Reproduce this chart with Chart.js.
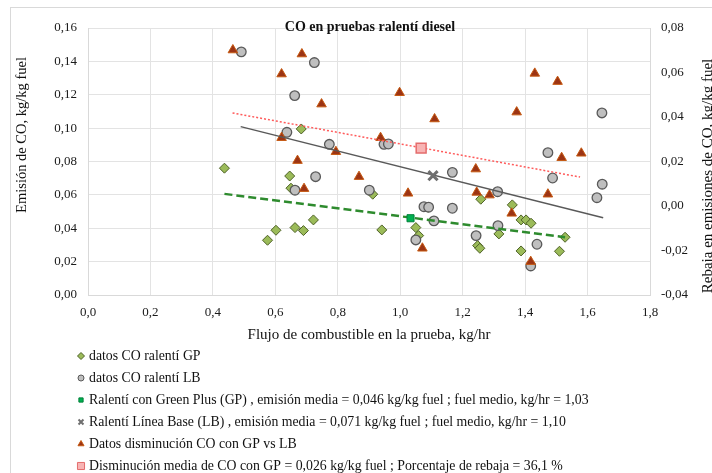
<!DOCTYPE html>
<html>
<head>
<meta charset="utf-8">
<title>CO en pruebas ralentí diesel</title>
<script src="https://cdn.jsdelivr.net/npm/chart.js@4.4.1/dist/chart.umd.min.js"></script>
<style>
body { margin: 0; background: #fff; }
</style>
</head>
<body>
<canvas id="myChart" width="712" height="473"></canvas>
<script>
// datos (flujo kg/hr, emision kg/kg fuel)

const gpFlujo = [0.437, 0.683, 0.646, 0.650, 0.912, 0.722, 0.602, 0.663, 0.690, 0.575, 0.941, 1.050, 1.059,
    1.089, 1.258, 1.359, 1.387, 1.403, 1.419, 1.316, 1.248, 1.255, 1.387, 1.510, 1.528];
const gpEmision = [0.076, 0.0995, 0.0713, 0.064, 0.0604, 0.045, 0.0388, 0.0404, 0.0386, 0.0328, 0.039, 0.0404, 0.0356,
    0.0526, 0.0574, 0.054, 0.045, 0.045, 0.043, 0.0366, 0.0296, 0.028, 0.0264, 0.0262, 0.0346];

const lbFlujo = [0.491, 0.725, 0.662, 0.637, 0.773, 0.948, 0.962, 0.729, 0.663, 0.901, 1.076, 1.091, 1.050,
    1.646, 1.473, 1.167, 1.488, 1.312, 1.647, 1.630, 1.167, 1.313, 1.243, 1.438, 1.418, 1.108];
const lbEmision = [0.1457, 0.1393, 0.1195, 0.0975, 0.0903, 0.0903, 0.0905, 0.0709, 0.0628, 0.0628, 0.0529, 0.0526, 0.033,
    0.1091, 0.0853, 0.0735, 0.0701, 0.0619, 0.0664, 0.0583, 0.052, 0.0416, 0.0356, 0.0304, 0.0174, 0.0444];

// disminucion GP vs LB (eje derecho)
const rebajaFlujo = [0.464, 0.685, 0.620, 0.748, 0.998, 0.620, 0.794, 0.671, 0.937, 0.868, 0.692, 1.025, 1.071,
    1.110, 1.431, 1.504, 1.373, 1.580, 1.517, 1.242, 1.245, 1.286, 1.473, 1.357, 1.418];
const rebajaValor = [0.0701, 0.0683, 0.0593, 0.0458, 0.0509, 0.0307, 0.0244, 0.0204, 0.0307, 0.0132, 0.0078, 0.0057, -0.019,
    0.0391, 0.0596, 0.0559, 0.0422, 0.0237, 0.0217, 0.0166, 0.0061, 0.0049, 0.0053, -0.0033, -0.025];

// medias
const gpMedia = [1.033, 0.046];
const lbMedia = [1.105, 0.0715];
const rebajaMedia = [1.067, 0.026];

// lineas de tendencia (extremos)
const gpTendX = [0.437, 1.528];
const gpTendY = [0.0606, 0.0346];
const lbTendX = [0.489, 1.65];
const lbTendY = [0.1009, 0.0463];
const rebajaTendX = [0.463, 1.576];
const rebajaTendY = [0.0418, 0.013];

// ejes
const xTicks = [0, 0.2, 0.4, 0.6, 0.8, 1.0, 1.2, 1.4, 1.6, 1.8];
const yTicks = [0, 0.02, 0.04, 0.06, 0.08, 0.10, 0.12, 0.14, 0.16];
const y2Ticks = [-0.04, -0.02, 0, 0.02, 0.04, 0.06, 0.08];

const leyenda = [
    'datos CO ralentí GP',
    'datos CO ralentí LB',
    'Ralentí con Green Plus (GP) , emisión media = 0,046 kg/kg fuel ; fuel medio, kg/hr = 1,03',
    'Ralentí Línea Base (LB) , emisión media = 0,071 kg/kg fuel ; fuel medio, kg/hr = 1,10',
    'Datos disminución CO con GP vs LB',
    'Disminución media de CO con GP = 0,026 kg/kg fuel ; Porcentaje de rebaja = 36,1 %'
];

const FUENTE = '"Liberation Serif", "DejaVu Serif", serif';

function puntos(xs, ys) {
    return xs.map(function (x, i) { return {x: x, y: ys[i]}; });
}

function coma(v, d) {
    return v.toFixed(d).replace('.', ',');
}

const datasets = [
    {label: leyenda[0], type: 'scatter', data: puntos(gpFlujo, gpEmision), yAxisID: 'y',
        pointStyle: 'rectRot', radius: 5, backgroundColor: '#9bbb59', borderColor: '#4f6228', borderWidth: 1, order: 6},
    {label: leyenda[1], type: 'scatter', data: puntos(lbFlujo, lbEmision), yAxisID: 'y',
        pointStyle: 'circle', radius: 4.8, backgroundColor: '#bfbfbf', borderColor: '#595959', borderWidth: 1.3, order: 5},
    {label: leyenda[2], type: 'scatter', data: [{x: gpMedia[0], y: gpMedia[1]}], yAxisID: 'y',
        pointStyle: 'rect', radius: 5, backgroundColor: '#00b050', borderColor: '#00803a', borderWidth: 1, order: 2},
    {label: leyenda[3], type: 'scatter', data: [{x: lbMedia[0], y: lbMedia[1]}], yAxisID: 'y',
        pointStyle: 'crossRot', radius: 6.5, backgroundColor: '#7f7f7f', borderColor: '#6f6f6f', borderWidth: 3, order: 2},
    {label: leyenda[4], type: 'scatter', data: puntos(rebajaFlujo, rebajaValor), yAxisID: 'y2',
        pointStyle: 'triangle', radius: 5.5, backgroundColor: '#9c3414', borderColor: '#c65911', borderWidth: 1, order: 4},
    {label: leyenda[5], type: 'scatter', data: [{x: rebajaMedia[0], y: rebajaMedia[1]}], yAxisID: 'y2',
        pointStyle: 'rect', radius: 7, backgroundColor: '#f8b4b4', borderColor: '#e46c6c', borderWidth: 1.5, order: 1},
    // tendencias
    {label: 'tend GP', type: 'line', data: puntos(gpTendX, gpTendY), yAxisID: 'y',
        borderColor: '#2e8b2e', borderWidth: 2.5, borderDash: [8, 4], pointRadius: 0, fill: false, order: 3},
    {label: 'tend LB', type: 'line', data: puntos(lbTendX, lbTendY), yAxisID: 'y',
        borderColor: '#595959', borderWidth: 1.5, pointRadius: 0, fill: false, order: 3},
    {label: 'tend rebaja', type: 'line', data: puntos(rebajaTendX, rebajaTendY), yAxisID: 'y2',
        borderColor: '#ff5a5a', borderWidth: 1.5, borderDash: [2, 2], pointRadius: 0, fill: false, order: 3}
];

// titulos, marco y leyenda dibujados a mano
const textos = {
    id: 'textos',
    beforeDraw(chart) {
        const ctx = chart.ctx;
        ctx.save();
        ctx.fillStyle = '#fff';
        ctx.fillRect(0, 0, chart.width, chart.height);
        ctx.strokeStyle = '#d9d9d9';
        ctx.lineWidth = 1;
        ctx.strokeRect(10.5, 7.5, 800, 600);
        ctx.restore();
    },
    afterDraw(chart) {
        const ctx = chart.ctx;
        const area = chart.chartArea;
        ctx.save();
        ctx.fillStyle = '#111';
        ctx.textBaseline = 'middle';

        ctx.textAlign = 'center';
        ctx.font = 'bold 14px ' + FUENTE;
        ctx.fillText('CO en pruebas ralentí diesel', 370, 27);

        ctx.font = '15px ' + FUENTE;
        ctx.fillText('Flujo de combustible en la prueba, kg/hr', (area.left + area.right) / 2, 335);

        ctx.save();
        ctx.translate(22, 135);
        ctx.rotate(-Math.PI / 2);
        ctx.font = '14.5px ' + FUENTE;
        ctx.fillText('Emisión de CO, kg/kg fuel', 0, 0);
        ctx.restore();

        ctx.save();
        ctx.translate(708, 176);
        ctx.rotate(-Math.PI / 2);
        ctx.font = '15px ' + FUENTE;
        ctx.fillText('Rebaja en emisiones de CO, kg/kg fuel', 0, 0);
        ctx.restore();

        // leyenda vertical
        const filas = [356, 378, 400, 422, 444, 466];
        const tam = [3.5, 3, 3, 3.5, 3.5, 5];
        ctx.textAlign = 'left';
        ctx.font = '13.8px ' + FUENTE;
        for (let i = 0; i < 6; i++) {
            const ds = chart.data.datasets[i];
            ctx.fillStyle = ds.backgroundColor;
            ctx.strokeStyle = ds.borderColor;
            ctx.lineWidth = i == 3 ? 2 : 1;
            Chart.helpers.drawPoint(ctx, {pointStyle: ds.pointStyle, radius: tam[i], rotation: 0, borderWidth: ctx.lineWidth}, 81, filas[i]);
            ctx.fillStyle = '#111';
            ctx.fillText(leyenda[i], 89, filas[i]);
        }
        ctx.restore();
    }
};

const config = {
    data: {datasets: datasets},
    options: {
        responsive: false,
        animation: false,
        devicePixelRatio: 1,
        layout: {padding: {left: 0, right: 0, top: 28, bottom: 138}},
        plugins: {
            legend: {display: false},
            tooltip: {enabled: false}
        },
        scales: {
            x: {
                type: 'linear', min: xTicks[0], max: xTicks[xTicks.length - 1],
                afterBuildTicks: function (s) { s.ticks = xTicks.map(function (v) { return {value: v}; }); },
                afterFit: function (s) { s.height = 40; },
                ticks: {
                    padding: 10, color: '#1a1a1a', font: {family: FUENTE, size: 13},
                    callback: function (v) { return coma(v, 1); }
                },
                grid: {color: '#e3e3e3', drawTicks: false},
                border: {color: '#d9d9d9'}
            },
            y: {
                position: 'left', min: yTicks[0], max: yTicks[yTicks.length - 1],
                afterBuildTicks: function (s) { s.ticks = yTicks.map(function (v) { return {value: v}; }); },
                afterFit: function (s) { s.width = 88; },
                ticks: {
                    padding: 11, color: '#1a1a1a', font: {family: FUENTE, size: 13},
                    callback: function (v) { return coma(v, 2); }
                },
                grid: {color: '#e3e3e3', drawTicks: false},
                border: {color: '#d9d9d9'}
            },
            y2: {
                position: 'right', min: y2Ticks[0], max: y2Ticks[y2Ticks.length - 1],
                afterBuildTicks: function (s) { s.ticks = y2Ticks.map(function (v) { return {value: v}; }); },
                afterFit: function (s) { s.width = 62; },
                ticks: {
                    padding: 11, color: '#1a1a1a', font: {family: FUENTE, size: 13},
                    callback: function (v) { return coma(v, 2); }
                },
                grid: {drawOnChartArea: false, drawTicks: false},
                border: {color: '#d9d9d9'}
            }
        }
    },
    plugins: [textos]
};

myChart = new Chart(document.getElementById('myChart'), config);
</script>
</body>
</html>
